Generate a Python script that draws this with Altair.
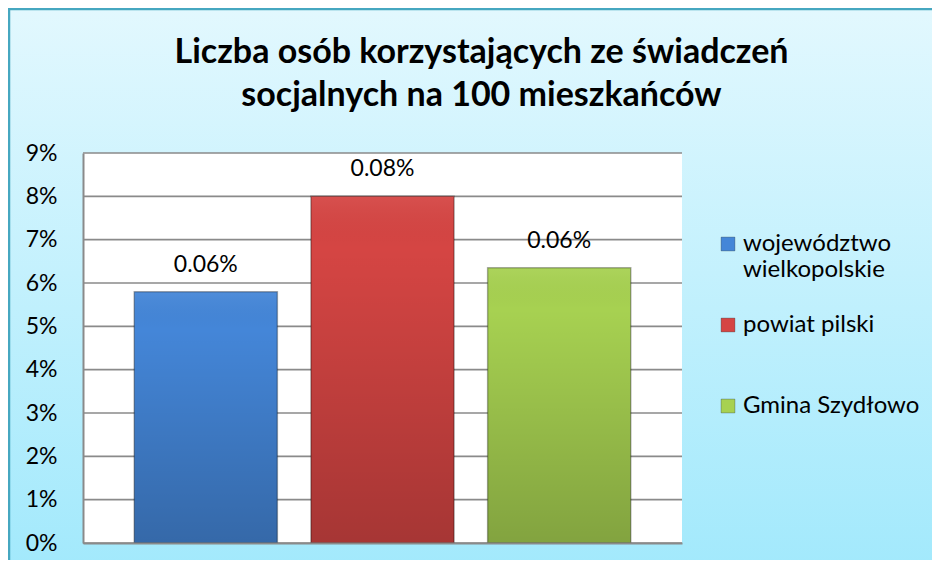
import altair as alt
import pandas as pd

series = ["województwo wielkopolskie", "powiat pilski", "Gmina Szydłowo"]
values = [0.058, 0.080, 0.0635]
labels = ["0.06%", "0.08%", "0.06%"]
colors = ["#4486d8", "#d54543", "#a7d151"]
grid_values = [0.00, 0.01, 0.02, 0.03, 0.04, 0.05, 0.06, 0.07, 0.08, 0.09]
title_lines = ["Liczba osób korzystających ze świadczeń", "socjalnych na 100 mieszkańców"]

df = pd.DataFrame({"series": series, "value": values, "label": labels})
gdf = pd.DataFrame({"v": grid_values})

W, H = 599, 390
PL, PT, PR, PB = 75, 145, 250, 17
FONT = "Lato"

bg = alt.Chart(pd.DataFrame({"a": [0]})).mark_rect(
    color=alt.LinearGradient(
        gradient="linear",
        stops=[alt.GradientStop(color="#e2f8fe", offset=0),
               alt.GradientStop(color="#a2e9fc", offset=1)],
        x1=0, x2=0, y1=0, y2=1),
    stroke="#46a7c0", strokeWidth=2.5,
).encode(
    x=alt.value(-PL + 1), x2=alt.value(W + PR + 12),
    y=alt.value(-PT + 1), y2=alt.value(H + PB + 12),
)

plotbg = alt.Chart(pd.DataFrame({"a": [0]})).mark_rect(color="white").encode(
    x=alt.value(0), x2=alt.value(W), y=alt.value(0), y2=alt.value(H)
)

yscale = alt.Scale(domain=[0, 0.09], nice=False)
xscale = alt.Scale(paddingInner=0.19, paddingOuter=0.29)

grid = alt.Chart(gdf).mark_rule(color="#8a8a8a", strokeWidth=1.6).encode(
    y=alt.Y("v:Q", scale=yscale)
)

x = alt.X("series:N", sort=series, scale=xscale,
          axis=alt.Axis(title=None, labels=False, ticks=False, domain=True,
                        domainColor="#8a8a8a", domainWidth=2, zindex=1))
y = alt.Y("value:Q", scale=yscale,
          axis=alt.Axis(title=None, format=".0%", values=grid_values,
                        ticks=False, labelPadding=26, labelFontSize=23,
                        labelFont=FONT, labelColor="#000000",
                        domain=True, domainColor="#8a8a8a", domainWidth=2,
                        grid=False, zindex=1))

bars = alt.Chart(df).mark_bar(strokeWidth=1.5, stroke="#00000050").encode(
    x=x, y=y,
    color=alt.Color("series:N", sort=series,
                    scale=alt.Scale(domain=series, range=colors),
                    legend=alt.Legend(
                        title=None, orient="none", legendX=633, legendY=79,
                        symbolType="square", symbolSize=190, symbolStrokeWidth=1,
                        symbolStrokeColor="#00000040",
                        labelFontSize=24, labelFont=FONT, labelColor="#000000",
                        labelLimit=0, rowPadding=31, labelOffset=3, padding=0,
                        labelExpr="datum.label == 'województwo wielkopolskie' ? split(datum.label, ' ') : [datum.label, ' ']",
                    )),
)

shade = alt.Chart(df).mark_bar(
    color=alt.LinearGradient(
        gradient="linear",
        stops=[alt.GradientStop(color="rgba(255,255,255,0.06)", offset=0),
               alt.GradientStop(color="rgba(0,0,0,0.0)", offset=0.15),
               alt.GradientStop(color="rgba(0,0,0,0.22)", offset=1)],
        x1=0, x2=0, y1=0, y2=1),
).encode(
    x=alt.X("series:N", sort=series, scale=xscale), y=alt.Y("value:Q", scale=yscale)
)

text = alt.Chart(df).mark_text(dy=-27, fontSize=23, font=FONT, color="#000000").encode(
    x=alt.X("series:N", sort=series, scale=xscale), y=alt.Y("value:Q", scale=yscale),
    text="label:N"
)

chart = alt.layer(bg, plotbg, grid, bars, shade, text).properties(
    width=W, height=H,
    padding={"left": PL, "top": PT, "right": PR, "bottom": PB},
    autosize=alt.AutoSizeParams(type="none"),
    background="white",
    title=alt.TitleParams(text=title_lines, fontSize=34, font=FONT, fontWeight="bold",
                          color="#000000", anchor="middle", dx=99, offset=-132,
                          baseline="alphabetic", lineHeight=43, zindex=1),
).configure_view(stroke=None)

chart.save("out.html", embed_options={"renderer": "svg", "actions": False})
